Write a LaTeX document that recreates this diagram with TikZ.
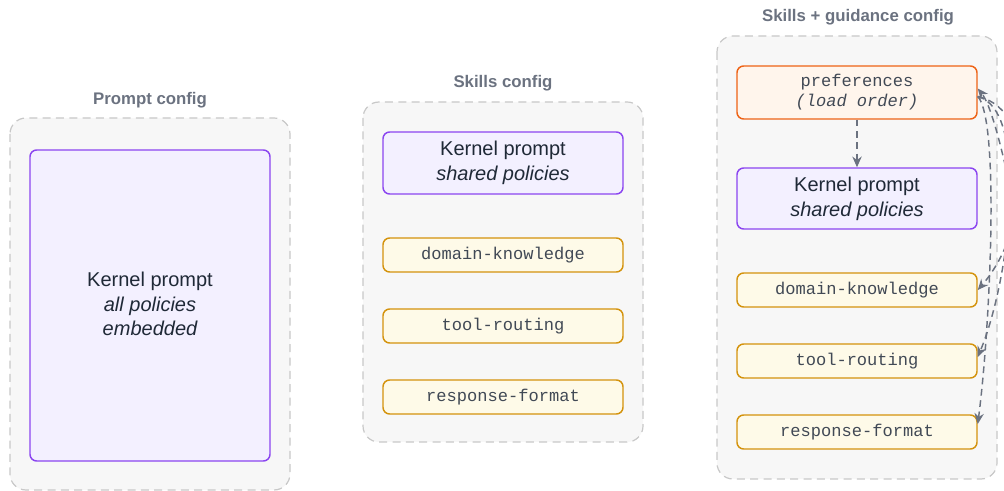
\documentclass[tikz,border=0pt]{standalone}
\usepackage{fontspec}
\setmainfont{Liberation Sans}
\setsansfont{Liberation Sans}
\setmonofont{Liberation Mono}
\usetikzlibrary{arrows.meta}
\definecolor{contfill}{HTML}{F7F7F7}
\definecolor{contline}{HTML}{C8C8C8}
\definecolor{titlegrey}{HTML}{6B7280}
\definecolor{kfill}{HTML}{F3F0FF}
\definecolor{kline}{HTML}{8B45F0}
\definecolor{sfill}{HTML}{FEFAE8}
\definecolor{sline}{HTML}{D4930D}
\definecolor{pfill}{HTML}{FFF5EC}
\definecolor{pline}{HTML}{EE6316}
\definecolor{txt}{HTML}{1F2937}
\definecolor{arrowgrey}{HTML}{6B7280}
\tikzset{
  container/.style={draw=contline, fill=contfill, dash pattern=on 6pt off 4pt, line width=0.9pt, rounded corners=12pt},
  ctitle/.style={font=\fontsize{12.6}{14}\selectfont\bfseries, text=titlegrey},
  kbox/.style={draw=kline, fill=kfill, line width=1.1pt, rounded corners=5pt},
  sbox/.style={draw=sline, fill=sfill, line width=1.1pt, rounded corners=5pt},
  pbox/.style={draw=pline, fill=pfill, line width=1.1pt, rounded corners=5pt},
  ktext/.style={font=\fontsize{15}{18.5}\selectfont, text=txt, align=center},
  stext/.style={font=\ttfamily\fontsize{12.8}{15}\selectfont, text=txt!85, align=center},
  depedge/.style={draw=arrowgrey, line width=1.1pt, dash pattern=on 5pt off 3.5pt, -{Stealth[length=8pt,width=7pt]}},
}
\begin{document}
\begin{tikzpicture}[x=0.75pt,y=-0.75pt]
\useasboundingbox (0,0) rectangle (1004,491);
\clip (0,0) rectangle (1004,491);
% ---- Prompt config
\node[ctitle] (t1) at (150,100) {Prompt config};
\draw[container] (10,118) rectangle (290,490);
\draw[kbox] (30,150) rectangle (270,461);
\node[ktext] (k1) at (150,304) {Kernel prompt\\\itshape all policies\\\itshape embedded};
% ---- Skills config
\node[ctitle] (t2) at (503,83) {Skills config};
\draw[container] (363,102) rectangle (643,442);
\draw[kbox] (383,132) rectangle (623,194);
\node[ktext] (k2) at (503,163) {Kernel prompt\\\itshape shared policies};
\draw[sbox] (383,238) rectangle (623,272);
\node[stext] (dk2) at (503,255) {domain-knowledge};
\draw[sbox] (383,309) rectangle (623,343);
\node[stext] (tr2) at (503,326) {tool-routing};
\draw[sbox] (383,380) rectangle (623,414);
\node[stext] (rf2) at (503,397) {response-format};
% ---- Skills + guidance config
\node[ctitle] (t3) at (858,17) {Skills + guidance config};
\draw[container] (717,36) rectangle (997,479);
\node[pbox, minimum width=180pt, minimum height=39.75pt] (pref) at (857,92.5) {};
\node[stext] at (pref) {preferences\\\itshape (load order)};
\node[kbox, minimum width=180pt, minimum height=45.75pt] (k3) at (857,198.5) {};
\node[ktext] at (k3) {Kernel prompt\\\itshape shared policies};
\node[sbox, minimum width=180pt, minimum height=25.5pt] (dk3) at (857,290) {};
\node[stext] at (dk3) {domain-knowledge};
\node[sbox, minimum width=180pt, minimum height=25.5pt] (tr3) at (857,361) {};
\node[stext] at (tr3) {tool-routing};
\node[sbox, minimum width=180pt, minimum height=25.5pt] (rf3) at (857,432) {};
\node[stext] at (rf3) {response-format};
% ---- edges
\draw[depedge] (pref.south) -- (k3.north);
\draw[depedge] ([yshift=-3pt]pref.east) .. controls (1040,110) and (1030,230) .. (dk3.east);
\draw[depedge] ([yshift=-3pt]pref.east) .. controls (1030,110) and (1010,280) .. ([yshift=3pt]tr3.east);
\draw[depedge] ([yshift=-3pt]pref.east) .. controls (1000,120) and (990,330) .. ([yshift=6pt]rf3.east);
\draw[depedge] (1030,300) .. controls (1015,200) and (995,110) .. ([yshift=3pt]pref.east);
\end{tikzpicture}
\end{document}
